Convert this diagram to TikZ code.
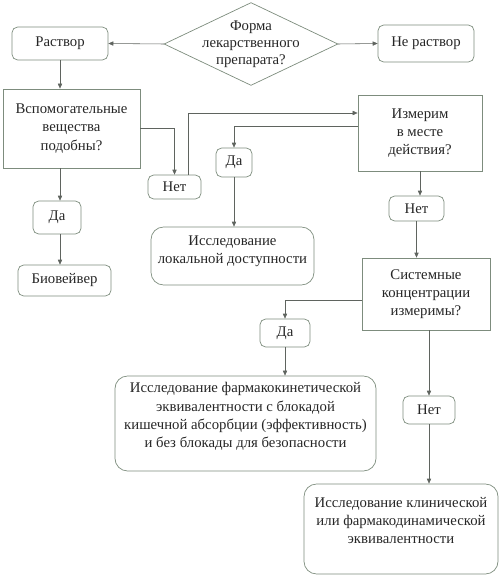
\documentclass[tikz,border=0pt]{standalone}
\usepackage{fontspec}
\setmainfont{Liberation Serif}
\usepackage{tikz}
\usetikzlibrary{arrows.meta}
\usetikzlibrary{calc}
\definecolor{boxline}{RGB}{125,140,125}
\definecolor{arrline}{RGB}{95,100,95}

\begin{document}
\begin{tikzpicture}[x=0.025cm, y=-0.025cm,
        every node/.style = {font=\fontsize{10.5}{13}\selectfont, text=black!85, align=center, inner sep=1pt},
        rbox/.style = {draw=boxline, rounded corners=4pt, line width=0.5pt},
        bigbox/.style = {draw=boxline, rounded corners=9pt, line width=0.5pt},
        sbox/.style = {draw=boxline, line width=0.5pt},
        arr/.style = {draw=arrline, line width=0.4pt, -{Triangle[length=3.5pt,width=3pt]}},
        ln/.style = {draw=arrline, line width=0.4pt}]
        \useasboundingbox (0, 0) rectangle (500, 578);

        \node (form) [minimum width=4.325cm, minimum height=2.05cm,
            font=\fontsize{10.5}{12}\selectfont] at (251, 44) {Форма\\лекарственного\\препарата?};
        \draw [boxline, line width=0.5pt] (form.north) -- (form.east) -- (form.south) -- (form.west) -- cycle;

        \node (rastvor) [rbox, minimum width=2.4cm, minimum height=0.825cm] at (60, 43.5) {Раствор};
        \node (neRastvor) [rbox, minimum width=2.4cm, minimum height=0.925cm] at (426, 43.5) {Не раствор};
        \node (vspom) [sbox, minimum width=3.425cm, minimum height=1.975cm] at (71.5, 128.5)
            {Вспомогательные\\вещества\\подобны?};
        \node (netL) [rbox, minimum width=1.325cm, minimum height=0.6cm] at (174.5, 187) {Нет};
        \node (izmerim) [sbox, minimum width=3.1cm, minimum height=1.9cm] at (420, 133)
            {Измерим\\в месте\\действия?};
        \node (daM) [rbox, minimum width=0.9cm, minimum height=0.725cm] at (234, 162.5) {Да};
        \node (lokal) [bigbox, minimum width=4.075cm, minimum height=1.45cm, text depth=9pt] at (232.5, 256)
            {Исследование\\локальной доступности};
        \node (netR) [rbox, minimum width=1.375cm, minimum height=0.625cm] at (416.5, 208.5) {Нет};
        \node (sist) [sbox, minimum width=3.2cm, minimum height=1.8cm] at (426, 294)
            {Системные\\концентрации\\измеримы?};
        \node (daR) [rbox, minimum width=1.25cm, minimum height=0.7cm] at (285, 333) {Да};
        \node (pk) [bigbox, minimum width=6.525cm, minimum height=2.375cm, text depth=12pt] at (245.5, 423.5)
            {Исследование фармакокинетической\\эквивалентности с блокадой\\кишечной абсорбции (эффективность)\\и без блокады для безопасности};
        \node (netB) [rbox, minimum width=1.3cm, minimum height=0.7cm] at (429, 410) {Нет};
        \node (klin) [bigbox, minimum width=4.85cm, minimum height=2.25cm, text depth=12pt] at (401, 529)
            {Исследование клинической\\или фармакодинамической\\эквивалентности};
        \node (daL) [rbox, minimum width=1.2cm, minimum height=0.825cm] at (57, 217.5) {Да};
        \node (bio) [rbox, minimum width=2.325cm, minimum height=0.775cm] at (64.5, 280.5) {Биовейвер};

        \draw [arr] (form.west) -- (rastvor.east);
        \draw [arr] (form.east) -- (neRastvor.west);
        \draw [arr] (rastvor.south) -- (rastvor.south |- vspom.north);
        \draw [arr] (rastvor.south |- vspom.south) -- (rastvor.south |- daL.north);
        \draw [arr] (rastvor.south |- daL.south) -- (rastvor.south |- bio.north);
        \draw [arr] (vspom.east) -| (netL.north);
        \draw [arr] ($(netL.north)+(13.5, 0)$) |- ($(izmerim.west)+(0, -20)$);
        \draw [arr] ($(izmerim.west)+(0, -7)$) -| (daM.north);
        \draw [arr] (daM.south) -- (daM.south |- lokal.north);
        \draw [arr] (izmerim.south) -- (izmerim.south |- netR.north);
        \draw [arr] (netR.south) -- (netR.south |- sist.north);
        \draw [arr] ($(sist.west)+(0, 6)$) -| (daR.north);
        \draw [arr] (daR.south) -- (daR.south |- pk.north);
        \draw [arr] (netB.north |- sist.south) -- (netB.north);
        \draw [arr] (netB.south) -- (netB.south |- klin.north);
\end{tikzpicture}
\end{document}
